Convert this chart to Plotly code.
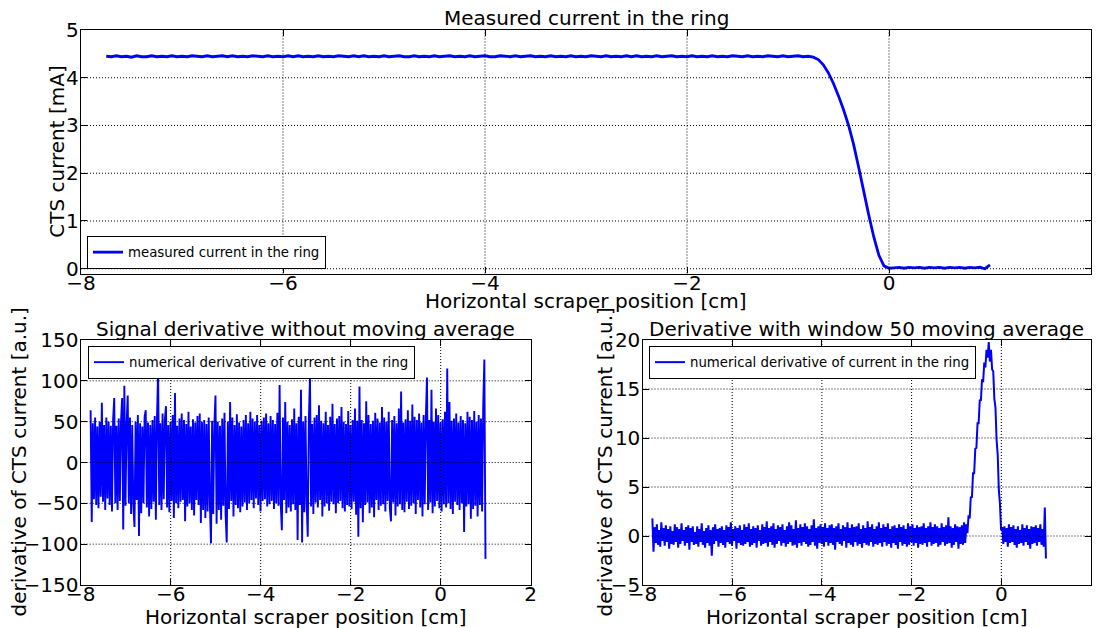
import numpy as np
import plotly.graph_objects as go

FONT = "DejaVu Sans"
BLUE = "#0000ff"

# ---------------- data ----------------
# top panel: measured current, sampled every 0.05 cm from -7.75 cm
top_x_start, top_x_step = -7.75, 0.05
current_plateau = [
    4.45, 4.44, 4.46, 4.44, 4.45, 4.43, 4.46, 4.44, 4.44, 4.46,
    4.44, 4.45, 4.44, 4.46, 4.44, 4.45, 4.44, 4.46, 4.45, 4.44,
    4.46, 4.44, 4.45, 4.46, 4.44, 4.46, 4.44, 4.45, 4.44, 4.46,
    4.45, 4.44, 4.46, 4.44, 4.45, 4.44, 4.46, 4.44, 4.46, 4.44,
    4.45, 4.44, 4.46, 4.44, 4.45, 4.44, 4.46, 4.45, 4.44, 4.46,
    4.44, 4.46, 4.44, 4.45, 4.44, 4.46, 4.44, 4.45, 4.46, 4.44,
    4.44, 4.46, 4.44, 4.45, 4.44, 4.46, 4.44, 4.45, 4.46, 4.44,
    4.45, 4.44, 4.46, 4.44, 4.45, 4.46, 4.44, 4.44, 4.46, 4.45,
    4.44, 4.46, 4.44, 4.45, 4.46, 4.44, 4.45, 4.44, 4.46, 4.44,
    4.45, 4.44, 4.46, 4.44, 4.45, 4.44, 4.46, 4.45, 4.44, 4.46,
    4.44, 4.45, 4.44, 4.46, 4.44, 4.46, 4.44, 4.45, 4.44, 4.46,
    4.44, 4.45, 4.46, 4.44, 4.45, 4.44, 4.46, 4.44, 4.45, 4.44,
    4.46, 4.44, 4.45, 4.44, 4.46, 4.45, 4.44, 4.46, 4.44, 4.45,
    4.44, 4.46, 4.45, 4.44, 4.46, 4.44, 4.45, 4.46, 4.44, 4.45,
]
current_drop = [4.43, 4.38, 4.27, 4.10, 3.88, 3.62, 3.33, 3.00,
                2.60, 2.12, 1.62, 1.12, 0.66, 0.28, 0.06, 0.01]
current_tail = [0.02, 0.03, 0.01, 0.03, 0.02, 0.03, 0.01, 0.03, 0.02, 0.03,
                0.01, 0.03, 0.02, 0.03, 0.01, 0.03, 0.02, 0.03, 0.00, 0.08]
current = current_plateau + current_drop + current_tail

# bottom panels: derivatives, sampled every 0.025 cm from -7.78 cm
der_x_start, der_x_step = -7.78, 0.025
deriv_raw = [
    64, -73, 48, -45, 55, -52, 44, -56, 50, -42, 73, -48, 46, -58, 55, -44, 50, -52, 45, -60,
    52, 79, -50, 45, -58, 54, -47, 49, 79, -82, 94, -53, 47, 82, -50, 55, -63, 46, -52, -79,
    50, -46, 58, -90, 48, -62, 44, -50, 56, 64, -55, 49, -66, 46, -57, 52, -48, 57, -70, 53,
    113, -52, 48, -58, 60, -45, 52, 69, -55, 46, -61, 50, -47, 58, -68, 85, -50, 45, -56, 54,
    -48, 60, -46, 52, -72, 47, -54, 62, -50, 44, -58, 53, -65, 49, -46, 57, -52, 60, -74, 50,
    -58, 52, -68, 47, -60, 55, -50, -99, 51, -63, 46, 82, -75, 50, -58, 45, -70, 54, -53, 61,
    -64, -98, 50, -57, 74, -47, 55, -66, 46, -52, 59, -56, 49, -61, 44, -54, 52, -49, 58, -58,
    48, -50, 62, -46, 54, -56, 50, -44, 58, -52, 46, -60, 51, -47, 55, -45, 60, -54, 48, -51,
    57, -47, 52, -57, 47, -50, 61, -53, 95, -50, -83, 55, -46, 74, -62, 50, -55, 46, -60, 53,
    -51, 66, -58, 48, -95, 56, -52, 89, -98, 50, -61, 57, -47, -91, 52, 104, -54, 47, -63, 55,
    -49, 58, -55, 70, -46, 51, -66, 48, -54, 62, -50, 46, -59, 56, -48, 72, -51, 47, -62, 54,
    -50, 57, -47, 68, -56, 50, -60, 47, -52, 63, -54, 46, -57, 52, -48, 66, -64, 51, -91, 93,
    -56, 52, -73, 48, -52, 75, -49, 58, -62, 47, -55, 51, -67, 61, -46, 54, -58, 49, -53, 68,
    -51, 55, -60, 50, -47, 62, -56, -72, 52, -49, 57, -65, 48, -54, 66, -51, 87, -58, 49, -61,
    53, -48, 64, -57, 51, -53, 71, -50, 56, -63, 52, -46, 60, -55, 49, -66, 58, -51, 55, 104,
    -58, 52, -49, 89, -62, 50, -54, 66, -47, 58, -56, 49, -60, 53, -51, 62, -55, 115, -50, 74,
    -57, 51, -63, 54, -48, 60, -52, 49, -58, 57, -50, 52, -85, 48, -54, 62, -51, 56, -69, 52,
    -57, 63, -53, 50, -66, 58, -52, 54, -60, 70, 126, -118,
]
deriv_avg = [
    1.8, -1.6, 0.9, -0.7, 1.2, -0.9, 0.6, -1.1, 1.4, -0.5, 0.8, -1.0, 1.1, -0.6, 0.7, -1.3, 1.0, -0.8, 0.5, -0.9,
    1.2, -0.6, 0.9, -1.2, 0.7, -0.8, 1.3, -0.5, 0.6, -1.0, 0.9, -0.7, 1.1, -1.4, 0.8, -0.6, 1.0, -0.9, 0.4, -0.8,
    1.0, -1.1, 0.7, -0.6, 1.3, -0.9, 0.5, -1.2, 0.8, -0.7, 1.1, -1.0, 0.6, -2.0, 0.9, -0.8, 1.2, -0.5, 0.7, -1.1,
    0.8, -0.7, 1.0, -0.9, 0.6, -1.2, 1.1, -0.6, 0.9, -0.8, 1.4, -1.0, 0.7, -0.5, 1.0, -1.3, 0.8, -0.7, 1.1, -0.9,
    0.6, -1.0, 1.2, -0.8, 0.9, -0.6, 1.3, -1.1, 0.7, -0.9, 1.0, -0.7, 0.8, -1.2, 1.1, -0.5, 0.6, -1.0, 1.2, -0.8,
    0.9, -0.7, 1.5, -1.1, 0.8, -0.6, 1.0, -0.9, 1.3, -1.2, 0.7, -0.8, 1.1, -0.5, 0.9, -1.0, 1.2, -0.7, 0.6, -1.1,
    1.0, -0.8, 1.4, -0.6, 1.1, -1.0, 0.7, -0.9, 1.6, -1.2, 0.8, -0.7, 1.2, -1.0, 0.9, -0.6, 1.3, -0.8, 1.0, -1.1,
    0.7, -0.9, 1.1, -0.6, 1.7, -1.0, 0.8, -1.3, 1.0, -0.7, 1.2, -0.8, 0.9, -1.1, 1.3, -0.6, 0.8, -1.0, 1.1, -0.7,
    1.2, -0.9, 0.8, -1.4, 1.0, -0.6, 1.3, -0.8, 0.7, -1.0, 1.1, -0.5, 0.9, -1.2, 1.4, -0.7, 0.8, -0.9, 1.2, -1.1,
    0.9, -0.6, 1.0, -1.0, 1.3, -0.8, 0.7, -1.2, 1.1, -0.7, 0.8, -0.9, 1.5, -1.0, 0.9, -0.6, 1.2, -1.1, 0.7, -0.8,
    1.0, -0.9, 1.4, -0.7, 0.8, -1.1, 1.2, -0.6, 0.9, -1.0, 1.3, -0.8, 0.7, -1.2, 1.0, -0.7, 1.1, -0.9, 0.8, -1.3,
    1.2, -0.6, 0.9, -1.0, 1.1, -0.8, 0.7, -1.1, 1.3, -0.9, 1.0, -0.6, 1.2, -1.0, 0.8, -0.7, 1.1, -1.2, 0.9, -0.8,
    1.0, -0.9, 1.3, -0.7, 0.8, -1.1, 1.0, -0.6, 1.4, -1.0, 0.9, -0.8, 1.2, -0.7, 1.0, -1.1, 0.8, -0.9, 1.3, -0.6,
    0.9, -1.0, 1.1, -0.8, 1.9, -0.7, 1.0, -1.2, 0.8, -0.9, 1.2, -0.6, 1.0, -1.3, 0.9, -0.8, 1.1, -0.9, 1.4, -0.7,
    1.2, 0.3, 2.1, 1.8, 4.0, 3.9, 6.4, 6.4, 8.9, 9.0, 11.5, 11.5, 13.9, 13.8, 16.0, 15.7, 17.7, 17.2, 19.0, 18.2,
    19.8, 17.8, 19.0, 17.0, 16.8, 14.0, 13.1, 9.8, 8.3, 4.7, 3.3, 0.6, 0.9, -0.8, 1.0, -0.6, 0.8, -1.1, 1.2, -0.7,
    0.9, -0.6, 1.1, -0.9, 0.7, -1.2, 1.0, -0.8, 0.6, -0.7, 1.2, -1.0, 0.8, -0.6, 1.1, -0.9, 0.7, -1.3, 1.0, -0.8,
    0.9, -0.7, 1.1, -1.0, 0.8, -0.6, 1.2, -0.9, 0.7, -1.1, 2.9, -2.3,
]

x_ticks = [-8, -6, -4, -2, 0, 2]
top_y_ticks = [0, 1, 2, 3, 4, 5]
raw_y_ticks = [-150, -100, -50, 0, 50, 100, 150]
avg_y_ticks = [-5, 0, 5, 10, 15, 20]

legend_label_top = "measured current in the ring"
legend_label_der = "numerical derivative of current in the ring"

# ---------------- figure ----------------
top_x = top_x_start + top_x_step * np.arange(len(current))
raw_x = der_x_start + der_x_step * np.arange(len(deriv_raw))
avg_x = der_x_start + der_x_step * np.arange(len(deriv_avg))

fig = go.Figure()
fig.add_trace(go.Scatter(x=top_x, y=current, mode="lines", name=legend_label_top,
                         line=dict(color=BLUE, width=2.8, simplify=False),
                         xaxis="x", yaxis="y", legend="legend"))
fig.add_trace(go.Scatter(x=raw_x, y=deriv_raw, mode="lines", name=legend_label_der,
                         line=dict(color=BLUE, width=1.9, simplify=False),
                         xaxis="x2", yaxis="y2", legend="legend2"))
fig.add_trace(go.Scatter(x=avg_x, y=deriv_avg, mode="lines", name=legend_label_der,
                         line=dict(color=BLUE, width=2.0, simplify=False),
                         xaxis="x3", yaxis="y3", legend="legend3"))

W, H = 1097, 628
def px(v):
    return v / W
def py(v):
    return 1 - v / H

FS = 20
TICKFONT = dict(family=FONT, size=FS, color="black")
def axis_common(rng, ticks, standoff):
    return dict(range=rng, tickvals=ticks, showgrid=False, zeroline=False,
                showline=True, linecolor="black", linewidth=1.3, mirror="ticks",
                ticks="inside", ticklen=6, tickwidth=1, tickcolor="black",
                tickfont=TICKFONT, ticklabelstandoff=standoff, fixedrange=True,
                automargin=False)

XSO, YSO = -9, -3

# panel frames in pixels (left, right, top, bottom)
top_box = (81, 1091, 30, 273.5)
bl_box = (80.7, 530.7, 340, 585)
br_box = (642.5, 1091, 340, 585)

fig.update_layout(
    width=W, height=H, margin=dict(l=0, r=0, t=0, b=0, autoexpand=False),
    paper_bgcolor="white", plot_bgcolor="white",
    font=dict(family=FONT, color="black"),
    xaxis=dict(domain=[px(top_box[0]), px(top_box[1])], anchor="y", **axis_common([-8, 2], x_ticks, XSO)),
    yaxis=dict(domain=[py(top_box[3]), py(top_box[2])], anchor="x", **axis_common([-0.1, 5], top_y_ticks, YSO)),
    xaxis2=dict(domain=[px(bl_box[0]), px(bl_box[1])], anchor="y2", **axis_common([-8, 2], x_ticks, XSO)),
    yaxis2=dict(domain=[py(bl_box[3]), py(bl_box[2])], anchor="x2", **axis_common([-150, 150], raw_y_ticks, YSO)),
    xaxis3=dict(domain=[px(br_box[0]), px(br_box[1])], anchor="y3", **axis_common([-8, 2], x_ticks, XSO)),
    yaxis3=dict(domain=[py(br_box[3]), py(br_box[2])], anchor="x3", **axis_common([-5, 20], avg_y_ticks, YSO)),
    showlegend=True,
)

legend_style = dict(bgcolor="white", bordercolor="black", borderwidth=1,
                    font=dict(family=FONT, size=13.3, color="black"), itemwidth=30,
                    xanchor="left", tracegroupgap=0)
fig.update_layout(
    legend=dict(x=px(87), y=py(269), yanchor="bottom", **legend_style),
    legend2=dict(x=px(88), y=py(346), yanchor="top", **legend_style),
    legend3=dict(x=px(649), y=py(346), yanchor="top", **legend_style),
)

# dotted grid drawn above the data (as in the original)
shapes = []
grid_line = dict(color="black", width=1, dash="1px,2px")
def add_grid(xa, ya, xr, yr, xt, yt):
    for v in xt:
        if xr[0] < v < xr[1]:
            shapes.append(dict(type="line", xref=xa, yref=ya + " domain", x0=v, x1=v, y0=0, y1=1,
                               line=grid_line, layer="above"))
    for v in yt:
        if yr[0] < v < yr[1]:
            shapes.append(dict(type="line", xref=xa + " domain", yref=ya, x0=0, x1=1, y0=v, y1=v,
                               line=grid_line, layer="above"))
add_grid("x", "y", [-8, 2], [-0.1, 5], x_ticks, top_y_ticks)
add_grid("x2", "y2", [-8, 2], [-150, 150], x_ticks, raw_y_ticks)
add_grid("x3", "y3", [-8, 2], [-5, 20], x_ticks, avg_y_ticks)
fig.update_layout(shapes=shapes)

TXT = dict(family=FONT, size=FS, color="black")
def ann(text, xpix, ypix, angle=0):
    return dict(text=text, x=px(xpix), y=py(ypix), xref="paper", yref="paper",
                showarrow=False, xanchor="center", yanchor="middle",
                textangle=angle, font=TXT)

annotations = [
    ann("Measured current in the ring", (top_box[0] + top_box[1]) / 2, 18),
    ann("Horizontal scraper position [cm]", (top_box[0] + top_box[1]) / 2, 301),
    ann("CTS current [mA]", 57, (top_box[2] + top_box[3]) / 2, -90),
    ann("Signal derivative without moving average", (bl_box[0] + bl_box[1]) / 2, 329),
    ann("Horizontal scraper position [cm]", (bl_box[0] + bl_box[1]) / 2, 617),
    ann("derivative of CTS current [a.u.]", 18, (bl_box[2] + bl_box[3]) / 2, -90),
    ann("Derivative with window 50 moving average", (br_box[0] + br_box[1]) / 2, 329),
    ann("Horizontal scraper position [cm]", (br_box[0] + br_box[1]) / 2, 617),
    ann("derivative of CTS current [a.u.]", 604, (br_box[2] + br_box[3]) / 2, -90),
]
fig.update_layout(annotations=annotations)

fig.write_html("out.html")
